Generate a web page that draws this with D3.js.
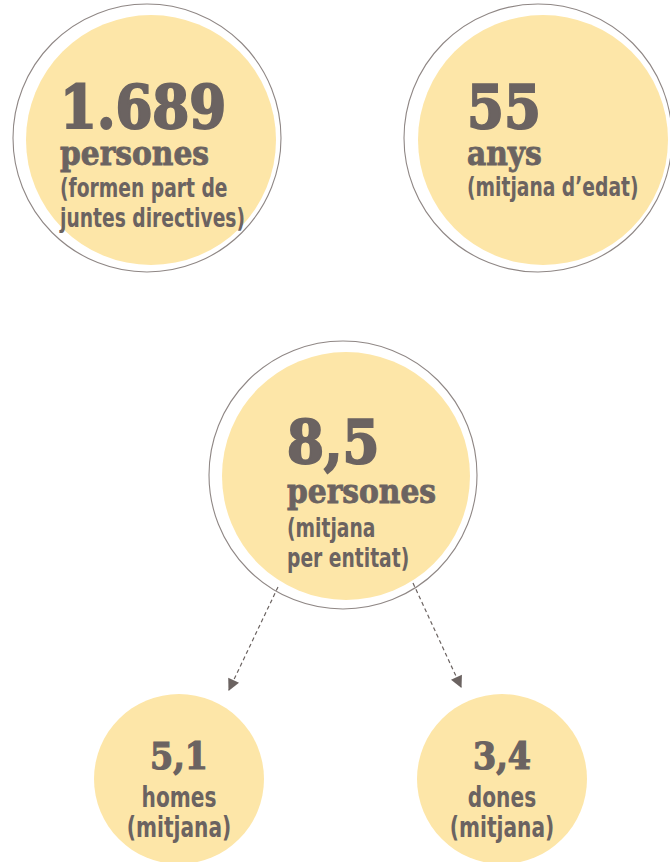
<!DOCTYPE html>
<html>
<head>
<meta charset="utf-8">
<script src="https://cdn.jsdelivr.net/npm/d3@7"></script>
<style>
  body { margin: 0; background: #fff; }
  svg { display: block; }
</style>
</head>
<body>
<svg id="chart"></svg>
<script>
// figures shown in each bubble
var bigValues = ["1.689", "55", "8,5", "5,1", "3,4"]
var unitLabels = ["persones", "anys", "persones", "homes", "dones"]
var noteLines = [
  ["(formen part de", "juntes directives)"],
  ["(mitjana d\u2019edat)"],
  ["(mitjana", "per entitat)"],
  ["(mitjana)"],
  ["(mitjana)"]
]
// which bubble breaks down into which
var links = [[2, 3], [2, 4]]

var screen = { width: 670, height: 862 }

// layout of the bubbles (fill circle, outline ring, text position)
var layout = [
  { cx: 151, cy: 140, r: 125, ring: { cx: 147, cy: 138, r: 134 }, tx: 60, align: "start", big: 59, unit: 33, note: 26, lines: [128, 165, 197, 227] },
  { cx: 543, cy: 140, r: 125, ring: { cx: 538, cy: 138, r: 134 }, tx: 467, align: "start", big: 59, unit: 33, note: 26, lines: [128, 165, 196] },
  { cx: 346, cy: 476, r: 124, ring: { cx: 343, cy: 475, r: 134 }, tx: 287, align: "start", big: 59, unit: 33, note: 26, lines: [463, 503, 537, 567] },
  { cx: 179, cy: 779, r: 85, ring: null, tx: 179, align: "middle", big: 37, unit: 28, note: 28, lines: [769, 807, 837] },
  { cx: 502, cy: 779, r: 85, ring: null, tx: 502, align: "middle", big: 37, unit: 28, note: 28, lines: [769, 807, 837] }
]
// arrow ends: start point near the parent rim, end near the child top
var arrowEnds = [
  { x1: 278, y1: 587, x2: 229, y2: 690 },
  { x1: 413, y1: 583, x2: 461, y2: 687 }
]

var fillColor = "#fde6a8"
var textColor = "#6b6361"
var ringColor = "#8f8785"
var serif = "'DejaVu Serif Condensed', 'DejaVu Serif', serif"
var narrow = "'DejaVu Sans Condensed', 'DejaVu Sans', sans-serif"
var squeeze = 0.8   // the sans lines are a narrow gothic, so compress them

var bubbles = bigValues.map(function(v, i){
  return { value: v, unit: unitLabels[i], notes: noteLines[i], pos: layout[i] }
})

var svg = d3.select("#chart")
  .attr("width", screen.width)
  .attr("height", screen.height)

svg.append("defs").append("marker")
  .attr("id", "head")
  .attr("viewBox", "0 0 10 10")
  .attr("refX", 9)
  .attr("refY", 5)
  .attr("markerWidth", 14)
  .attr("markerHeight", 12)
  .attr("markerUnits", "userSpaceOnUse")
  .attr("orient", "auto")
  .append("path")
  .attr("d", "M0,0 L10,5 L0,10 z")
  .attr("fill", textColor)

var g = svg.selectAll("g.bubble")
  .data(bubbles)
  .enter()
  .append("g")
  .attr("class", "bubble")

g.append("circle")
  .attr("cx", function(d){ return d.pos.cx })
  .attr("cy", function(d){ return d.pos.cy })
  .attr("r", function(d){ return d.pos.r })
  .attr("fill", fillColor)

g.filter(function(d){ return d.pos.ring })
  .append("circle")
  .attr("cx", function(d){ return d.pos.ring.cx })
  .attr("cy", function(d){ return d.pos.ring.cy })
  .attr("r", function(d){ return d.pos.ring.r })
  .attr("fill", "none")
  .attr("stroke", ringColor)
  .attr("stroke-width", 1.1)

g.append("text")
  .attr("x", function(d){ return d.pos.tx })
  .attr("y", function(d){ return d.pos.lines[0] })
  .attr("text-anchor", function(d){ return d.pos.align })
  .attr("font-family", serif)
  .attr("font-weight", "bold")
  .attr("font-size", function(d){ return d.pos.big })
  .attr("fill", textColor)
  .attr("stroke", textColor)
  .attr("stroke-width", function(d){ return d.pos.big > 50 ? 2 : 1.2 })
  .text(function(d){ return d.value })

var sq = function(x, y){ return "translate(" + x + "," + y + ") scale(" + squeeze + ",1)" }

// unit word: heavy serif in the big bubbles, narrow sans in the small ones
g.filter(function(d){ return d.pos.align == "start" })
  .append("text")
  .attr("x", function(d){ return d.pos.tx })
  .attr("y", function(d){ return d.pos.lines[1] })
  .attr("font-family", serif)
  .attr("font-weight", "bold")
  .attr("font-size", function(d){ return d.pos.unit })
  .attr("fill", textColor)
  .attr("stroke", textColor)
  .attr("stroke-width", 0.8)
  .text(function(d){ return d.unit })

g.filter(function(d){ return d.pos.align == "middle" })
  .append("text")
  .attr("transform", function(d){ return sq(d.pos.tx, d.pos.lines[1]) })
  .attr("text-anchor", "middle")
  .attr("font-family", narrow)
  .attr("font-weight", "bold")
  .attr("font-size", function(d){ return d.pos.unit })
  .attr("fill", textColor)
  .text(function(d){ return d.unit })

g.each(function(d){
  d3.select(this).selectAll("text.note")
    .data(d.notes)
    .enter()
    .append("text")
    .attr("class", "note")
    .attr("transform", function(t, i){ return sq(d.pos.tx, d.pos.lines[2 + i]) })
    .attr("text-anchor", d.pos.align)
    .attr("font-family", narrow)
    .attr("font-weight", "bold")
    .attr("font-size", d.pos.note)
    .attr("fill", textColor)
    .text(function(t){ return t })
})

svg.selectAll("line.arrow")
  .data(links)
  .enter()
  .append("line")
  .attr("class", "arrow")
  .attr("x1", function(d, i){ return arrowEnds[i].x1 })
  .attr("y1", function(d, i){ return arrowEnds[i].y1 })
  .attr("x2", function(d, i){ return arrowEnds[i].x2 })
  .attr("y2", function(d, i){ return arrowEnds[i].y2 })
  .attr("stroke", textColor)
  .attr("stroke-width", 1.2)
  .attr("stroke-dasharray", "4,3")
  .attr("marker-end", "url(#head)")
</script>
</body>
</html>
